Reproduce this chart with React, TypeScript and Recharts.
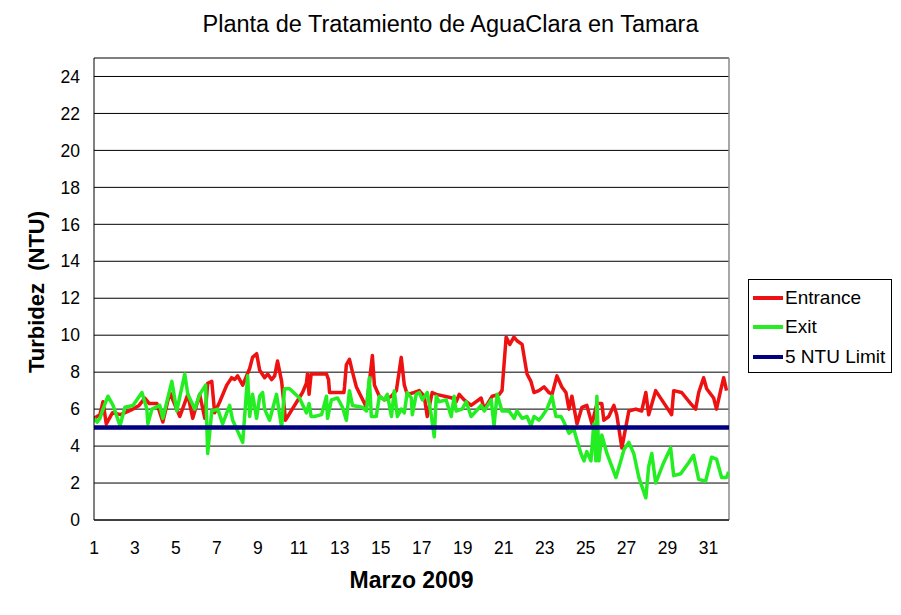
import React from 'react'
import { LineChart, Line, XAxis, YAxis, CartesianGrid, Legend, ReferenceLine, Label } from 'recharts'

const FONT = 'Liberation Sans, Arial, sans-serif'

const dayTicks = [1, 3, 5, 7, 9, 11, 13, 15, 17, 19, 21, 23, 25, 27, 29, 31]
const ntuTicks = [0, 2, 4, 6, 8, 10, 12, 14, 16, 18, 20, 22, 24]
const legendOrder = ['Entrance', 'Exit', '5 NTU Limit']

// [day of March, turbidity]
const entrance: [number, number][] = [
    [1.0, 5.5], [1.29, 5.7], [1.44, 6.4], [1.6, 5.2], [1.9, 5.8], [2.3, 5.7], [2.9, 6.0], [3.2, 6.2],
    [3.48, 6.6], [3.7, 6.3], [4.07, 6.3], [4.36, 5.3], [4.7, 6.9], [5.19, 5.6], [5.58, 6.8], [5.82, 5.5],
    [6.16, 6.8], [6.41, 5.5], [6.55, 7.4], [6.75, 7.5], [6.89, 5.8], [7.14, 6.4], [7.48, 7.3], [7.72, 7.7],
    [7.87, 7.6], [8.01, 7.8], [8.26, 7.3], [8.6, 8.2], [8.74, 8.8], [8.94, 9.0], [9.09, 8.1], [9.33, 7.7],
    [9.48, 7.9], [9.67, 7.6], [9.82, 7.8], [9.96, 8.6], [10.16, 7.5], [10.35, 5.4], [11.18, 6.9], [11.37, 7.4],
    [11.42, 7.9], [11.5, 6.8], [11.6, 7.9], [12.35, 7.9], [12.45, 7.6], [12.5, 6.9], [13.2, 6.9], [13.23, 7.2],
    [13.32, 8.4], [13.47, 8.7], [13.62, 8.0], [13.81, 7.2], [14.3, 6.1], [14.44, 7.4], [14.59, 8.9], [14.69, 7.3],
    [14.93, 6.7], [15.17, 6.5], [15.52, 6.7], [15.76, 7.0], [16.0, 8.8], [16.15, 7.3], [16.29, 6.8], [16.64, 6.9],
    [16.88, 7.0], [17.12, 6.7], [17.27, 5.6], [17.51, 6.9], [17.71, 6.8], [18.49, 6.6], [18.68, 6.4], [18.83, 6.8],
    [19.07, 6.5], [19.41, 6.2], [19.9, 6.6], [20.05, 6.0], [20.44, 6.7], [20.78, 6.8], [20.92, 7.0], [21.12, 9.9],
    [21.3, 9.5], [21.5, 9.9], [21.65, 9.7], [21.9, 9.5], [22.14, 7.9], [22.33, 7.5], [22.48, 6.9], [22.72, 7.0],
    [22.97, 7.2], [23.21, 6.9], [23.36, 6.8], [23.6, 7.8], [23.84, 7.2], [24.04, 6.9], [24.19, 6.0], [24.33, 6.7],
    [24.58, 5.2], [24.82, 6.1], [25.06, 6.2], [25.31, 5.2], [25.55, 6.3], [25.79, 6.3], [25.89, 5.4], [26.13, 5.6],
    [26.38, 6.2], [26.52, 5.7], [26.77, 3.9], [27.11, 5.9], [27.45, 6.0], [27.74, 5.9], [27.94, 6.9], [28.08, 5.7],
    [28.42, 7.0], [28.72, 6.5], [29.2, 5.7], [29.3, 7.0], [29.69, 6.9], [30.13, 6.3], [30.37, 6.0], [30.52, 6.9],
    [30.76, 7.7], [30.91, 7.1], [31.25, 6.6], [31.39, 6.0], [31.59, 7.0], [31.74, 7.7], [31.88, 7.0],
]

const exit: [number, number][] = [
    [1.0, 5.5], [1.15, 5.3], [1.29, 5.5], [1.44, 6.0], [1.68, 6.7], [1.93, 6.2], [2.27, 5.1], [2.51, 6.1],
    [2.9, 6.2], [3.34, 6.9], [3.58, 6.0], [3.63, 5.2], [3.83, 6.0], [4.21, 6.2], [4.36, 5.5], [4.8, 7.5],
    [5.04, 5.9], [5.43, 7.9], [5.58, 6.8], [5.92, 6.0], [6.16, 6.8], [6.45, 7.3], [6.55, 3.6], [6.75, 5.9],
    [7.04, 6.0], [7.28, 5.2], [7.62, 6.2], [7.77, 5.4], [8.26, 4.2], [8.5, 7.8], [8.6, 5.6], [8.74, 6.8],
    [8.94, 5.5], [9.09, 6.7], [9.23, 6.9], [9.33, 6.0], [9.57, 5.4], [9.91, 6.8], [10.16, 5.0], [10.3, 7.1],
    [10.55, 7.1], [11.03, 6.6], [11.37, 5.8], [11.5, 6.3], [11.6, 5.6], [11.76, 5.6], [12.11, 5.7], [12.35, 6.7],
    [12.4, 5.5], [12.59, 6.5], [12.89, 6.6], [13.13, 6.1], [13.32, 5.4], [13.47, 7.0], [13.62, 6.2], [14.1, 6.1],
    [14.3, 5.9], [14.44, 7.7], [14.54, 5.6], [14.78, 5.6], [14.93, 6.7], [15.17, 6.5], [15.32, 6.8], [15.52, 5.6],
    [15.66, 7.0], [15.81, 5.6], [16.0, 6.0], [16.15, 5.8], [16.29, 6.9], [16.49, 6.6], [16.54, 5.7], [16.73, 6.8],
    [16.88, 6.9], [17.03, 6.5], [17.27, 6.9], [17.46, 5.7], [17.61, 4.5], [17.71, 6.7], [17.85, 6.4], [18.19, 6.5],
    [18.44, 5.6], [18.58, 6.7], [18.68, 5.9], [18.97, 6.0], [19.17, 6.4], [19.41, 5.6], [19.66, 5.9], [19.9, 6.2],
    [20.05, 5.9], [20.39, 6.5], [20.53, 5.1], [20.68, 6.8], [20.92, 5.9], [21.26, 5.9], [21.51, 5.5], [21.65, 5.9],
    [21.9, 5.5], [22.14, 5.6], [22.33, 5.1], [22.48, 5.6], [22.72, 5.4], [22.87, 5.6], [23.11, 6.0], [23.36, 6.7],
    [23.55, 5.6], [23.8, 5.6], [23.94, 5.3], [24.19, 4.7], [24.43, 4.9], [24.58, 4.3], [24.77, 3.6], [24.92, 3.2],
    [25.06, 3.7], [25.26, 3.2], [25.4, 5.2], [25.5, 3.2], [25.55, 6.7], [25.65, 3.2], [25.79, 4.6], [26.04, 3.6],
    [26.28, 2.9], [26.48, 2.3], [26.72, 3.2], [26.87, 3.8], [27.11, 4.2], [27.35, 3.6], [27.6, 2.3], [27.94, 1.2],
    [28.08, 2.9], [28.23, 3.6], [28.42, 2.0], [28.81, 3.1], [29.15, 3.9], [29.3, 2.4], [29.64, 2.5], [30.03, 3.1],
    [30.27, 3.5], [30.52, 2.2], [30.86, 2.1], [31.15, 3.4], [31.39, 3.3], [31.64, 2.3], [31.88, 2.3], [31.98, 2.6],
]

const limit: [number, number][] = [[1, 5], [32, 5]]

const toRows = (pts: [number, number][]) => pts.map(([day, ntu]) => ({ day, ntu }))

const renderLegend = (props: any) => {
    const items = [...(props.payload || [])].sort(
        (a: any, b: any) => legendOrder.indexOf(a.value) - legendOrder.indexOf(b.value)
    )
    return (
        <div style={{ border: '1px solid #000', background: '#fff', padding: '3px 6px 0 4px', fontFamily: FONT, fontSize: 19 }}>
            {items.map((it: any) => (
                <div key={it.value} style={{ display: 'flex', alignItems: 'center', height: 29.5 }}>
                    <span style={{ display: 'inline-block', width: 30, height: 4, background: it.color, marginRight: 2 }} />
                    <span>{it.value}</span>
                </div>
            ))}
        </div>
    )
}

const App: React.FC = () => {
    return (
        <div style={{ position: 'absolute', left: 0, top: 0, width: 901, height: 615, background: '#fff' }}>
            <div style={{ position: 'absolute', left: 0, top: 11, width: 901, textAlign: 'center', fontFamily: FONT, fontSize: 23.5, zIndex: 2 }}>
                Planta de Tratamiento de AguaClara en Tamara
            </div>
            <LineChart width={901} height={615} margin={{ top: 58, right: 172, bottom: 65, left: 34 }}>
                <CartesianGrid horizontal vertical={false} stroke='#000' strokeWidth={1} />
                <XAxis
                    dataKey='day'
                    type='number'
                    domain={[1, 32]}
                    ticks={dayTicks}
                    allowDataOverflow
                    height={30}
                    stroke='#000'
                    tickSize={0}
                    tickMargin={22}
                    tick={{ fill: '#000', fontSize: 17.5, fontFamily: FONT }}
                >
                    <Label value='Marzo 2009' position='bottom' offset={22} style={{ fontFamily: FONT, fontSize: 23, fontWeight: 'bold', fill: '#000' }} />
                </XAxis>
                <YAxis
                    type='number'
                    domain={[0, 25]}
                    ticks={ntuTicks}
                    width={60}
                    stroke='#000'
                    tickSize={0}
                    tickMargin={14}
                    tick={{ fill: '#000', fontSize: 17.5, fontFamily: FONT }}
                >
                    <Label
                        content={() => (
                            <text x={36} y={292} transform='rotate(-90 36 292)' textAnchor='middle' dominantBaseline='central'
                                style={{ fontFamily: FONT, fontSize: 22, fontWeight: 'bold', fill: '#000', whiteSpace: 'pre' }}>
                                Turbidez  (NTU)
                            </text>
                        )}
                    />
                </YAxis>
                <ReferenceLine x={32} stroke='#8a8a8a' strokeWidth={1.5} />
                <Line data={toRows(entrance)} dataKey='ntu' name='Entrance' stroke='#ee1111' strokeWidth={3.5}
                    strokeLinejoin='round' dot={false} isAnimationActive={false} />
                <Line data={toRows(exit)} dataKey='ntu' name='Exit' stroke='#22ee22' strokeWidth={3.5}
                    strokeLinejoin='round' dot={false} isAnimationActive={false} />
                <Line data={toRows(limit)} dataKey='ntu' name='5 NTU Limit' stroke='#000080' strokeWidth={4.5}
                    dot={false} isAnimationActive={false} />
                <Legend layout='vertical' align='center' verticalAlign='middle' content={renderLegend}
                    wrapperStyle={{ left: 748, top: 279, width: 'auto' }} />
            </LineChart>
        </div>
    )
}

export default App
